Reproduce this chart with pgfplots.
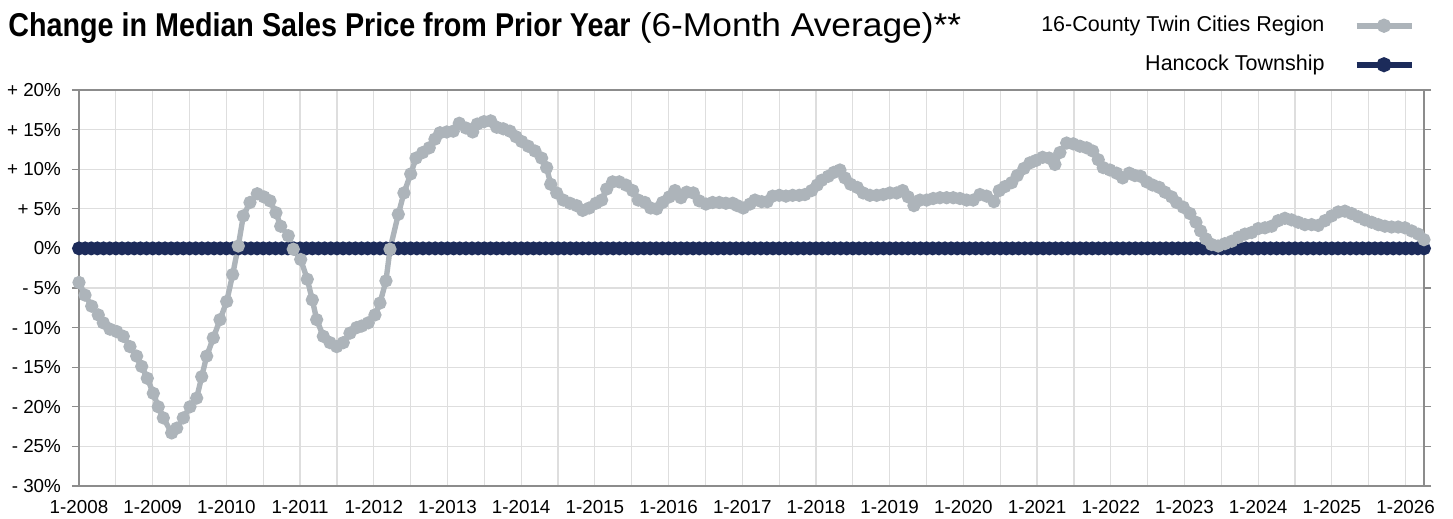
\documentclass[border=0pt]{standalone}
\usepackage{pgfplots}
\pgfplotsset{compat=1.18}
\usepackage{fontspec}
\setmainfont{Liberation Sans}
\newfontfamily\titlefont[FakeStretch=0.87]{Liberation Sans}
\newfontfamily\regwide[FakeStretch=1.07]{Liberation Sans}
\definecolor{reggray}{HTML}{ADB4BA}
\definecolor{navy}{HTML}{1C2B5A}
\definecolor{gridc}{HTML}{DEDEDE}
\definecolor{axisc}{HTML}{8C8C8C}
\begin{document}
\begin{tikzpicture}
\path[use as bounding box] (-39.5pt,-16.5pt) rectangle (687pt,243pt);
\node[anchor=base west, inner sep=0pt] at (-35.5pt,224.6pt)
  {\fontsize{16.5}{19}\selectfont{\titlefont\bfseries Change in Median Sales Price from Prior Year} {\regwide(6-Month Average)**}};
\begin{axis}[
  scale only axis, width=672.5pt, height=198pt,
  at={(0,0)}, anchor=south west,
  xmin=0, xmax=219, ymin=-30, ymax=20,
  clip=false,
  xtick={0,12,...,216},
  xticklabels={1-2008,1-2009,1-2010,1-2011,1-2012,1-2013,1-2014,1-2015,1-2016,1-2017,1-2018,1-2019,1-2020,1-2021,1-2022,1-2023,1-2024,1-2025,1-2026},
  minor xtick={6,18,...,210},
  ytick={-30,-25,...,20},
  yticklabels={- 30\%,- 25\%,- 20\%,- 15\%,- 10\%,- 5\%,0\%,+ 5\%,+ 10\%,+ 15\%,+ 20\%},
  grid=both,
  major grid style={gridc, line width=0.6pt},
  minor grid style={gridc, line width=0.6pt},
  axis line style={axisc, line width=0.6pt},
  tick align=outside,
  xtick style={draw=none},
  minor tick length=0pt,
  ytick style={axisc, line width=0.6pt},
  major tick length=3.5pt,
  tick label style={font=\fontsize{9.4}{10}\selectfont},
  xticklabel style={yshift=-3pt, inner sep=0.5pt, text depth=0pt},
  yticklabel style={xshift=-2pt},
  /pgf/number format/assume math mode=true,
  legend plot pos=right,
  legend cell align=right,
  legend style={draw=none, fill=none, at={(rel axis cs:0.9977,1.205)}, anchor=north east,
    font=\fontsize{10.75}{12}\selectfont, row sep=7pt, column sep=13.5pt,
    nodes={inner sep=1pt, text height=8pt, text depth=2.5pt}},
  legend image code/.code={\draw[#1, mark repeat=2, mark phase=2] plot coordinates {(0pt,0pt) (13.75pt,0pt) (27.5pt,0pt)};},
]
\addlegendimage{color=reggray, line width=3pt, mark=*, mark size=2pt, mark options={fill=reggray}}
\addlegendentry{16-County Twin Cities Region}
\addlegendimage{color=navy, line width=3pt, mark=*, mark size=2.2pt, mark options={fill=navy}}
\addlegendentry{Hancock Township}
\addplot[forget plot, color=navy, line width=3pt, mark=*, mark size=1.9pt, mark options={fill=navy}] coordinates {
(0,0)(1,0)(2,0)(3,0)(4,0)(5,0)(6,0)(7,0)(8,0)(9,0)(10,0)(11,0)(12,0)(13,0)(14,0)(15,0)(16,0)(17,0)(18,0)(19,0)
(20,0)(21,0)(22,0)(23,0)(24,0)(25,0)(26,0)(27,0)(28,0)(29,0)(30,0)(31,0)(32,0)(33,0)(34,0)(35,0)(36,0)(37,0)(38,0)(39,0)
(40,0)(41,0)(42,0)(43,0)(44,0)(45,0)(46,0)(47,0)(48,0)(49,0)(50,0)(51,0)(52,0)(53,0)(54,0)(55,0)(56,0)(57,0)(58,0)(59,0)
(60,0)(61,0)(62,0)(63,0)(64,0)(65,0)(66,0)(67,0)(68,0)(69,0)(70,0)(71,0)(72,0)(73,0)(74,0)(75,0)(76,0)(77,0)(78,0)(79,0)
(80,0)(81,0)(82,0)(83,0)(84,0)(85,0)(86,0)(87,0)(88,0)(89,0)(90,0)(91,0)(92,0)(93,0)(94,0)(95,0)(96,0)(97,0)(98,0)(99,0)
(100,0)(101,0)(102,0)(103,0)(104,0)(105,0)(106,0)(107,0)(108,0)(109,0)(110,0)(111,0)(112,0)(113,0)(114,0)(115,0)(116,0)(117,0)(118,0)(119,0)
(120,0)(121,0)(122,0)(123,0)(124,0)(125,0)(126,0)(127,0)(128,0)(129,0)(130,0)(131,0)(132,0)(133,0)(134,0)(135,0)(136,0)(137,0)(138,0)(139,0)
(140,0)(141,0)(142,0)(143,0)(144,0)(145,0)(146,0)(147,0)(148,0)(149,0)(150,0)(151,0)(152,0)(153,0)(154,0)(155,0)(156,0)(157,0)(158,0)(159,0)
(160,0)(161,0)(162,0)(163,0)(164,0)(165,0)(166,0)(167,0)(168,0)(169,0)(170,0)(171,0)(172,0)(173,0)(174,0)(175,0)(176,0)(177,0)(178,0)(179,0)
(180,0)(181,0)(182,0)(183,0)(184,0)(185,0)(186,0)(187,0)(188,0)(189,0)(190,0)(191,0)(192,0)(193,0)(194,0)(195,0)(196,0)(197,0)(198,0)(199,0)
(200,0)(201,0)(202,0)(203,0)(204,0)(205,0)(206,0)(207,0)(208,0)(209,0)(210,0)(211,0)(212,0)(213,0)(214,0)(215,0)(216,0)(217,0)(218,0)(219,0)
};
\addplot[forget plot, color=reggray, line width=2.7pt, mark=*, mark size=1.9pt, mark options={fill=reggray}] coordinates {
(0,-4.3)(0.98,-5.9)(2.07,-7.3)(3.14,-8.4)(3.96,-9.4)(5.05,-10.2)(6.14,-10.5)(7.21,-11.1)(8.30,-12.4)(9.39,-13.6)(10.21,-14.9)(11.12,-16.4)(12.10,-18.3)(12.91,-20.0)(13.73,-21.4)(15.09,-23.3)(15.91,-22.7)(16.98,-21.4)(18.07,-20.0)(19.16,-18.9)(19.98,-16.2)(20.79,-13.6)(21.87,-11.3)(22.96,-9.0)(24.05,-6.7)(25.02,-3.3)(25.94,0.3)(26.75,4.1)(27.84,5.8)(29.03,6.9)(30.12,6.5)(31.10,6.0)(32.07,4.5)(32.84,2.8)(34.08,1.6)(34.89,-0.1)(36.10,-1.4)(37.17,-3.9)(37.99,-6.5)(38.70,-9.0)(39.78,-11.1)(40.87,-11.9)(41.96,-12.4)(43.03,-11.9)(44.12,-10.7)(45.21,-10.0)(46.03,-9.8)(47.10,-9.4)(48.19,-8.4)(49.01,-6.9)(49.98,-4.1)(50.64,-0.1)(51.99,4.3)(52.91,7.0)(54.01,9.4)(54.87,11.4)(55.96,12.1)(57.03,12.7)(57.96,13.8)(58.78,14.6)(59.87,14.7)(60.94,14.8)(61.92,15.8)(63.01,15.2)(64.10,14.7)(64.85,15.7)(65.94,16.0)(67.03,16.1)(68.01,15.3)(69.08,15.1)(70.17,14.8)(71.15,14.1)(72.08,13.5)(73.15,12.9)(74.24,12.3)(75.33,11.4)(76.15,10.2)(76.80,8.1)(77.78,7.0)(78.85,6.1)(79.94,5.7)(81.03,5.4)(82.01,4.8)(83.08,5.1)(84.17,5.7)(85.10,6.1)(85.92,7.5)(86.89,8.4)(87.97,8.4)(89.06,8.0)(90.15,7.3)(91.06,6.1)(92.15,5.8)(93.08,5.1)(94.06,5.0)(95.03,5.8)(96.11,6.5)(97.04,7.3)(98.01,6.4)(98.94,7.1)(100.02,7.0)(100.99,6.0)(102.08,5.6)(103.17,5.8)(104.25,5.8)(105.34,5.7)(106.43,5.7)(107.18,5.4)(108.16,5.1)(109.25,5.6)(110.06,6.1)(111.15,5.9)(112.06,5.9)(112.94,6.6)(114.02,6.7)(115.11,6.6)(116.20,6.7)(117.27,6.7)(118.20,6.8)(119.29,7.3)(120.20,8.0)(120.92,8.6)(121.99,9.1)(122.92,9.6)(123.90,9.9)(124.71,8.9)(125.64,8.1)(126.72,7.7)(127.69,7.0)(128.78,6.7)(129.88,6.7)(130.95,6.8)(132.04,7.0)(133.13,7.0)(134.11,7.3)(135.02,6.5)(135.95,5.4)(136.93,6.1)(138.02,6.1)(139.09,6.3)(140.18,6.4)(141.27,6.4)(142.35,6.4)(143.44,6.3)(144.53,6.1)(145.60,6.1)(146.69,6.8)(147.78,6.6)(148.97,5.9)(149.84,7.3)(150.76,7.8)(151.86,8.3)(152.77,9.2)(153.86,10.1)(154.84,10.8)(155.81,11.1)(156.90,11.5)(157.98,11.4)(158.91,10.6)(159.72,12.1)(160.81,13.3)(161.89,13.2)(162.98,12.9)(164.07,12.7)(165.05,12.3)(165.96,11.2)(166.77,10.2)(167.86,9.9)(168.95,9.5)(169.93,8.9)(171.00,9.5)(171.93,9.2)(172.86,9.1)(173.84,8.4)(174.81,8.0)(175.89,7.7)(176.82,7.1)(177.91,6.5)(178.72,5.8)(179.80,5.2)(180.89,4.4)(181.87,3.3)(182.63,2.2)(183.49,1.2)(184.42,0.5)(185.49,0.3)(186.58,0.6)(187.68,0.9)(188.75,1.4)(189.84,1.8)(190.93,2.0)(192.01,2.5)(193.10,2.6)(194.19,2.8)(195.26,3.5)(196.35,3.8)(197.44,3.6)(198.52,3.3)(199.61,3.0)(200.70,3.0)(201.77,2.9)(202.87,3.5)(203.96,4.1)(205.03,4.6)(206.12,4.7)(207.21,4.4)(208.29,4.0)(209.38,3.6)(210.47,3.3)(211.56,3.0)(212.63,2.8)(213.72,2.7)(214.80,2.7)(215.89,2.6)(216.99,2.2)(218.07,1.8)(219,1.1)
};
\end{axis}
\end{tikzpicture}
\end{document}
